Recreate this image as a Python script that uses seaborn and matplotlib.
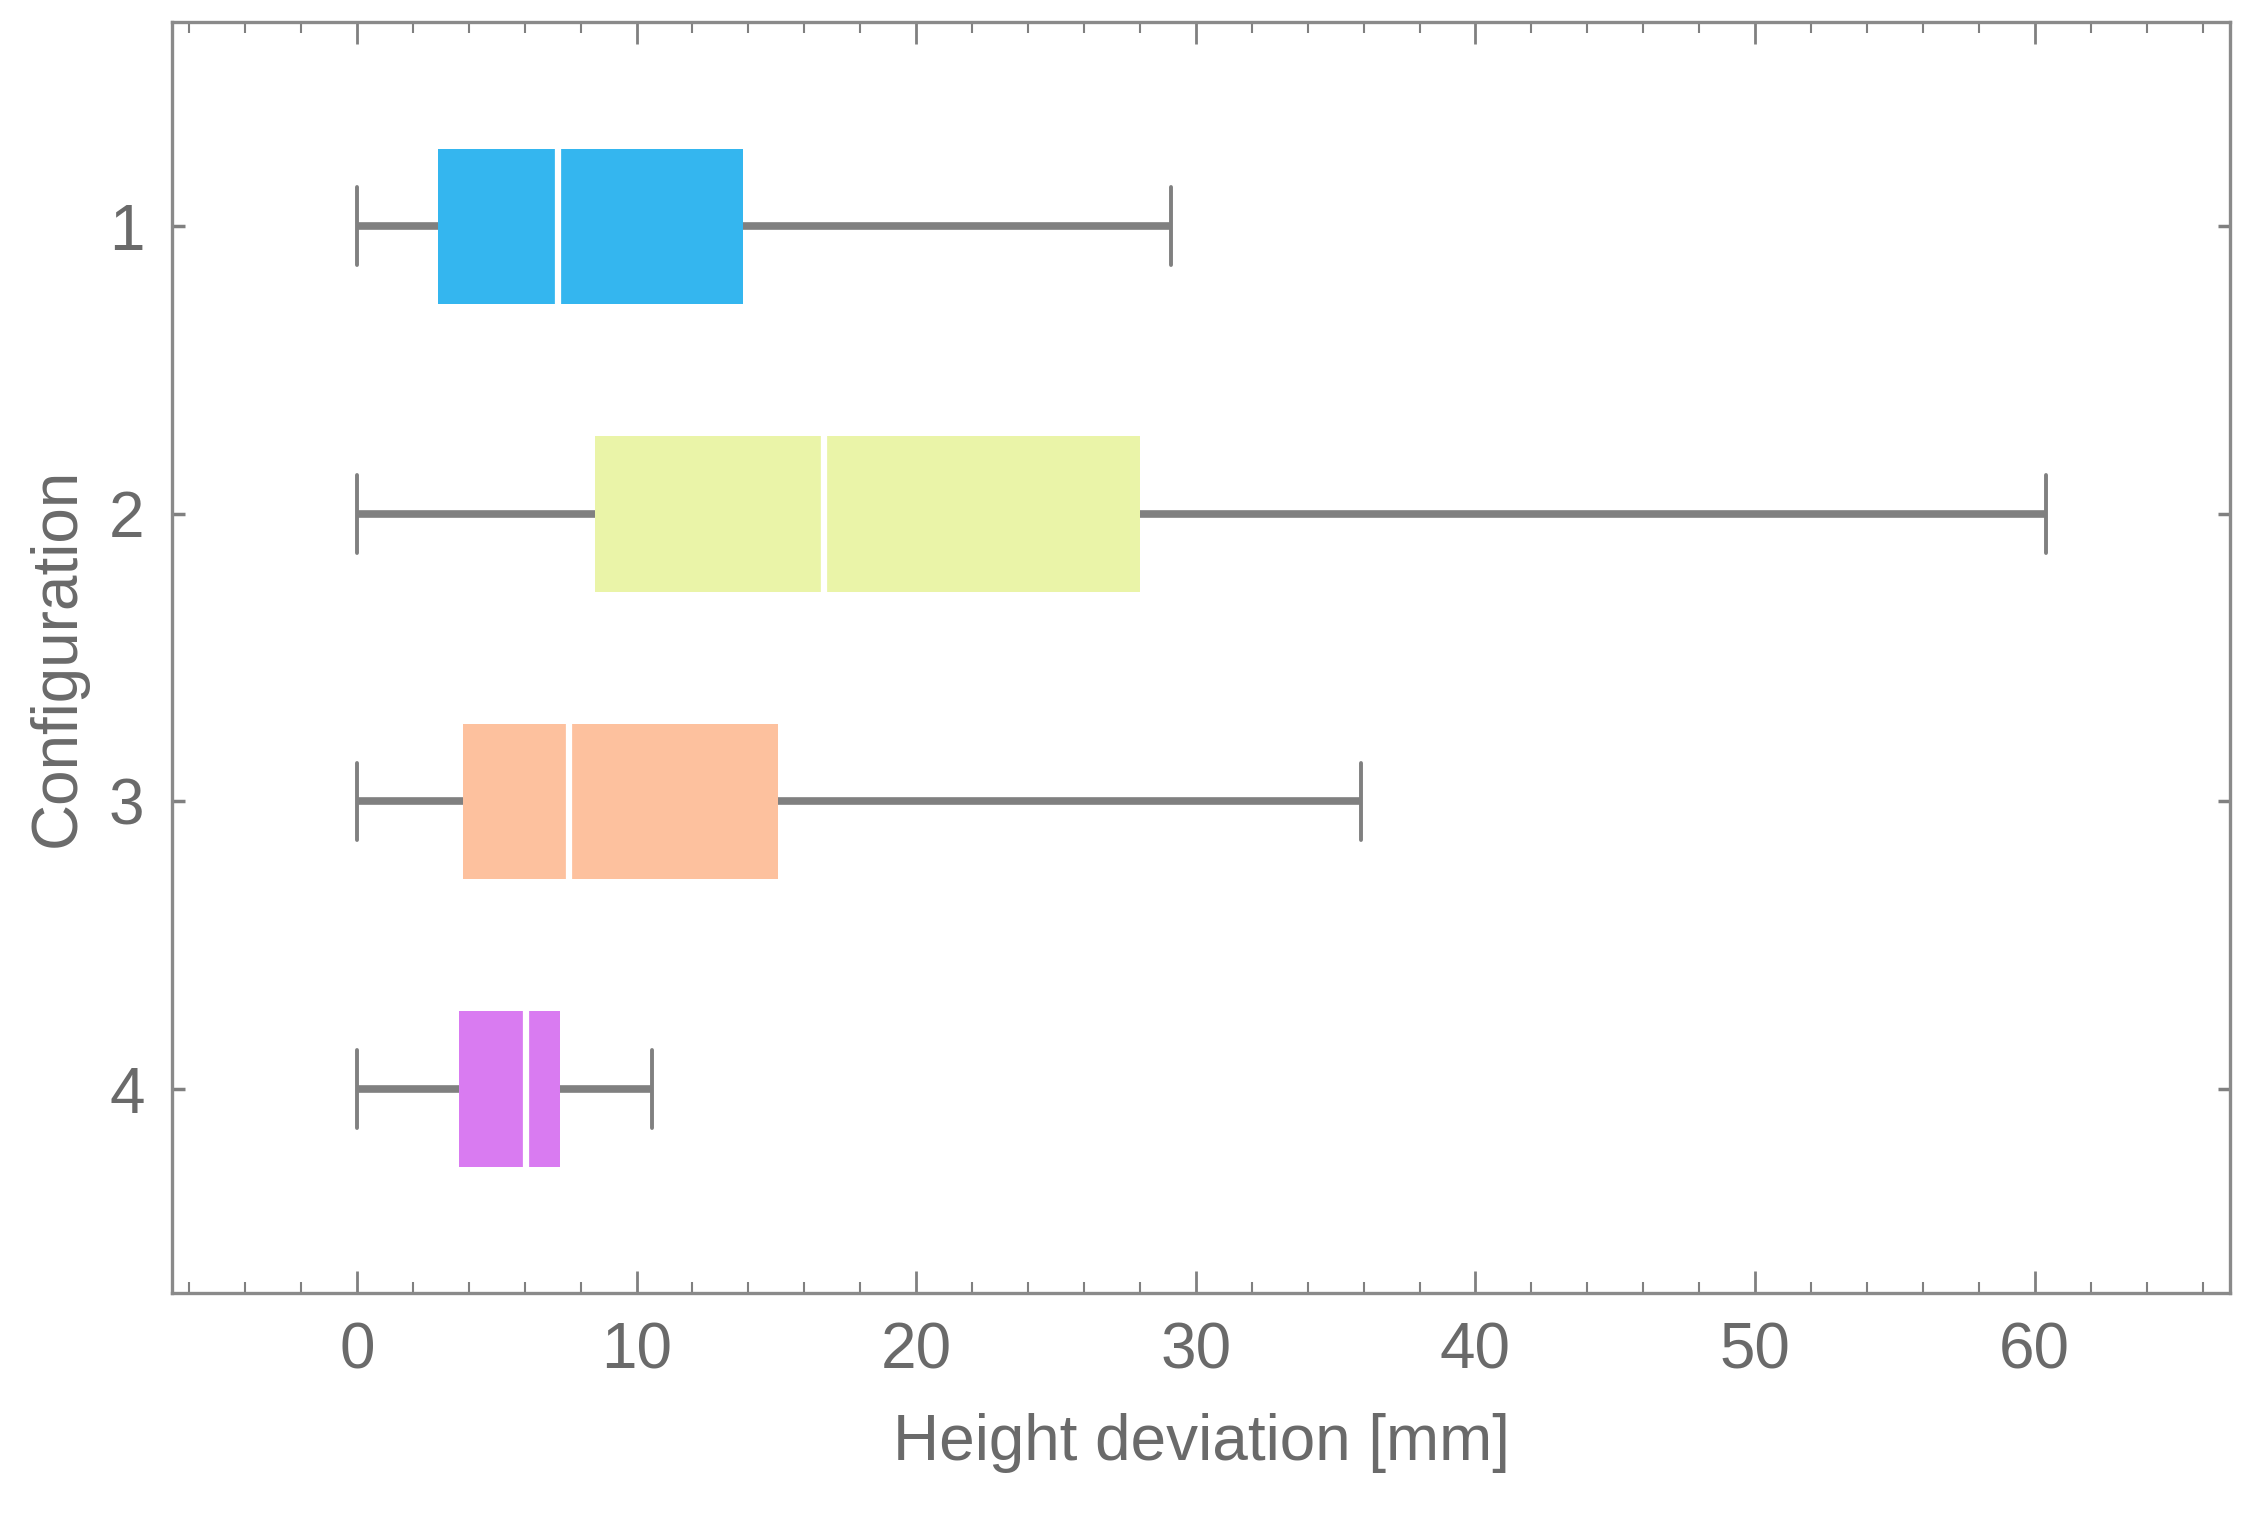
import numpy as np
import pandas as pd
import seaborn as sns
import matplotlib.pyplot as plt
from matplotlib.ticker import MultipleLocator

# five-number summaries (mm)
configs = ["1", "2", "3", "4"]
mins = [0.0, 0.0, 0.0, 0.0]
q1s = [2.9, 8.5, 3.8, 3.65]
medians = [7.2, 16.7, 7.6, 6.05]
q3s = [13.8, 28.0, 15.05, 7.25]
maxs = [29.1, 60.4, 35.9, 10.55]
colors = ["#34B6EF", "#EAF4A8", "#FDC19E", "#D97BF1"]

rows = []
for c, a, b, m, d, e in zip(configs, mins, q1s, medians, q3s, maxs):
    for v in (a, b, m, d, e):
        rows.append({"Configuration": c, "dev": v})
df = pd.DataFrame(rows)

sns.set_style("white")
plt.rcParams['font.family'] = ['Liberation Sans', 'DejaVu Sans']

grey = "#808080"
txt = "#6a6a6a"

fig, ax = plt.subplots(figsize=(22.53, 15.18), dpi=100)
fig.subplots_adjust(left=0.0765, right=0.990, top=0.9855, bottom=0.148)

sns.boxplot(data=df, x="dev", y="Configuration", hue="Configuration",
            order=configs, hue_order=configs, palette=colors, legend=False,
            saturation=1, width=0.54, whis=(0, 100), linecolor=grey, ax=ax,
            boxprops=dict(linewidth=0),
            medianprops=dict(color="white", linewidth=4.5),
            whiskerprops=dict(color=grey, linewidth=5.5),
            capprops=dict(color=grey, linewidth=2.8))

ax.set_xlim(-6.6, 67.0)
ax.set_ylim(3.71, -0.71)

ax.xaxis.set_major_locator(MultipleLocator(10))
ax.xaxis.set_minor_locator(MultipleLocator(2))
ax.tick_params(axis="x", which="major", direction="in", length=16, width=2,
               color=grey, top=True, bottom=True, labelsize=46, labelcolor=txt, pad=20)
ax.tick_params(axis="x", which="minor", direction="in", length=8, width=1.5,
               color=grey, top=True, bottom=True)
ax.tick_params(axis="y", which="major", direction="in", length=9, width=2.5,
               color=grey, left=True, right=True, labelsize=46, labelcolor=txt, pad=20)

for s in ax.spines.values():
    s.set_color("#8a8a8a")
    s.set_linewidth(2.4)

ax.set_xlabel("Height deviation [mm]", fontsize=46, color=txt)
ax.set_ylabel("Configuration", fontsize=46, color=txt)
ax.xaxis.set_label_coords(0.5, -0.094)
ax.yaxis.set_label_coords(-0.041, 0.5)

fig.savefig("out.png", dpi=100)
